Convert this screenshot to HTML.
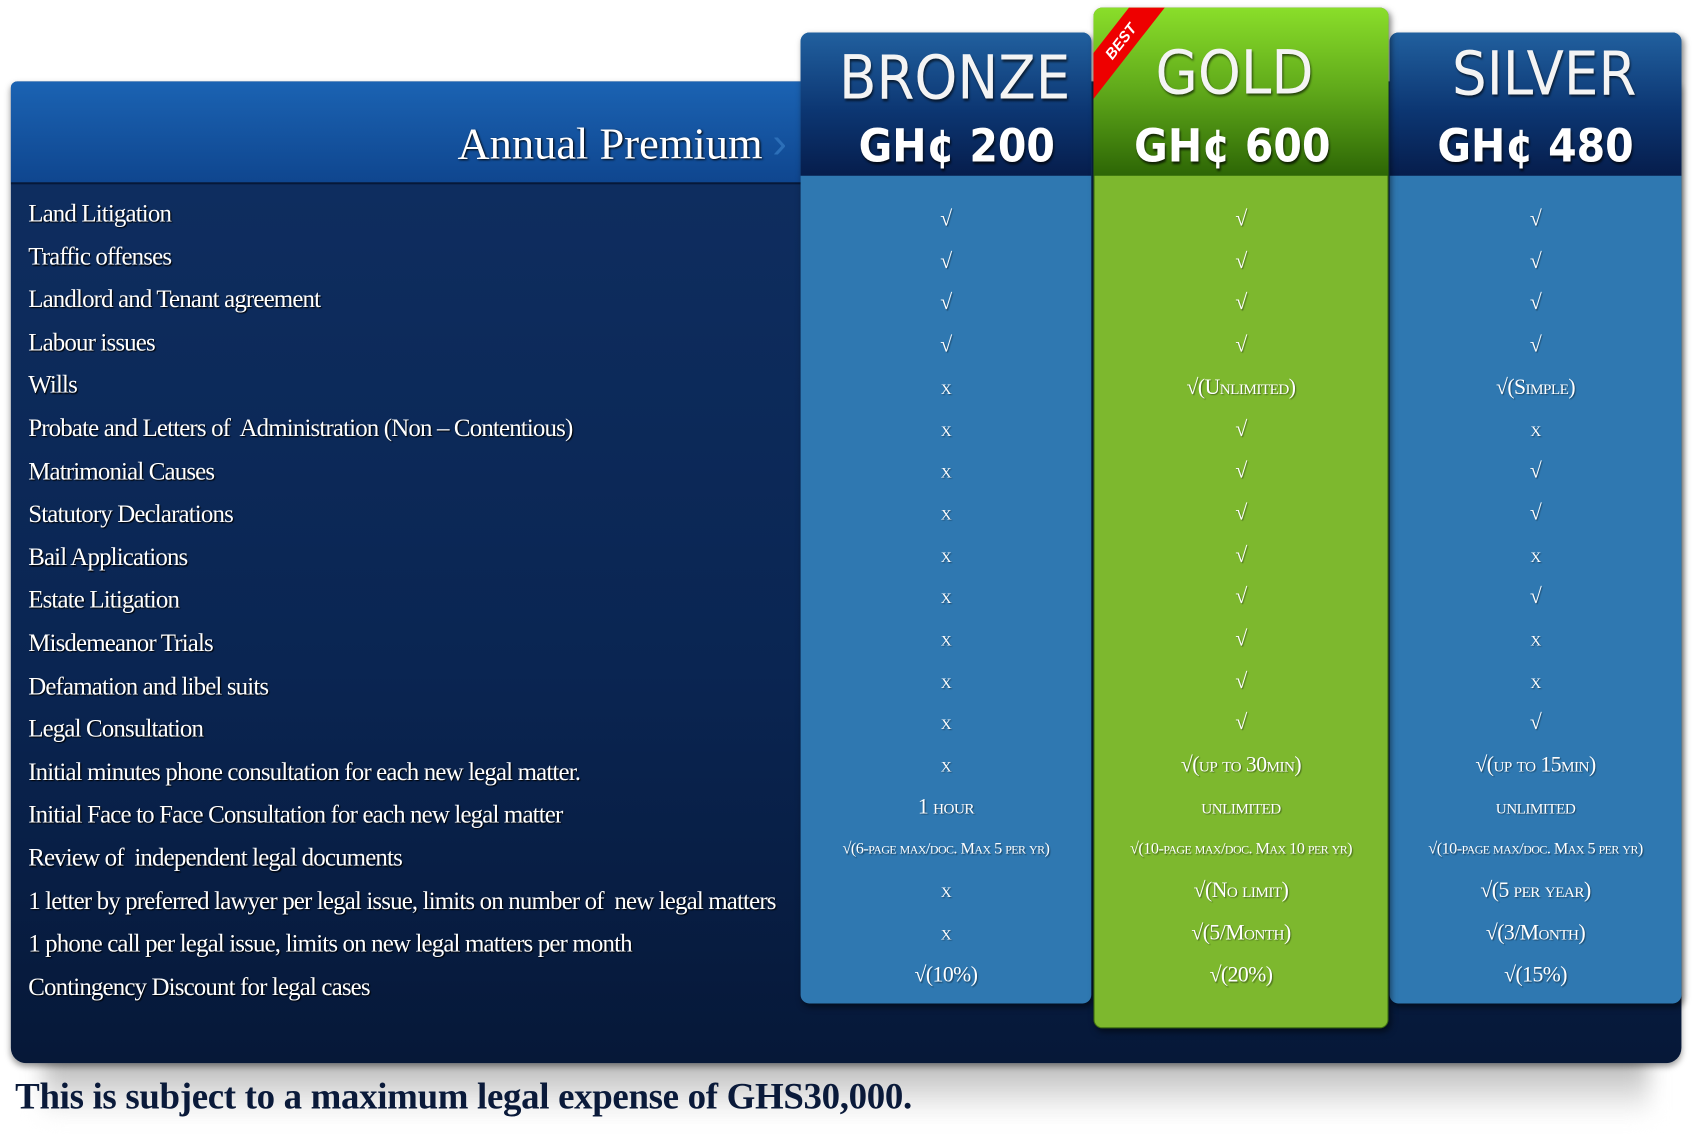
<!DOCTYPE html>
<html><head><meta charset="utf-8">
<style>
html,body{margin:0;padding:0;background:#fff;width:1701px;height:1134px;overflow:hidden}
#s{position:absolute;left:0;top:0;width:1568px;height:1045px;transform:scale(1.0848);transform-origin:0 0;font-family:"Liberation Serif",serif}
.abs{position:absolute}
.shadow{left:40px;top:960px;width:1480px;height:70px;background:linear-gradient(#777,#fff);filter:blur(10px);opacity:.7}
.panel{left:10px;top:75px;width:1540px;height:905px;border-radius:6px 6px 14px 14px;background:linear-gradient(#0f2f62,#0a2552 60%,#061838);box-shadow:0 3px 6px rgba(0,0,0,.4)}
.hband{left:10px;top:75px;width:730px;height:93px;border-radius:6px 0 0 0;background:linear-gradient(#1b63b3,#0f468f);border-bottom:2px solid #061838}
.ap{right:865px;top:108px;color:#fff;font-size:41px;text-shadow:1px 1px 2px #000}
.chev{left:712px;top:110px;color:#2c6fb8;font-size:40px;font-family:"Liberation Sans",sans-serif}
.col{border-radius:8px;box-shadow:2px 3px 6px rgba(0,0,0,.5)}
.hd{border-radius:8px 8px 0 0}
.title{width:100%;text-align:center;color:#f4f4f4;font-family:"DejaVu Sans Condensed","Liberation Sans Narrow","Liberation Sans",sans-serif;font-size:56px;text-shadow:1px 2px 2px rgba(0,0,0,.6)}
.price{width:100%;text-align:center;color:#fff;font-family:"DejaVu Sans Condensed","DejaVu Sans","Liberation Sans",sans-serif;font-weight:bold;font-size:42px;text-shadow:1px 2px 2px rgba(0,0,0,.7)}
.lbl{left:26px;color:#fff;font-size:23px;letter-spacing:-0.8px;white-space:nowrap;text-shadow:1px 1px 1px #000}
.v{color:#fff;text-align:center;font-size:20px;font-variant:small-caps;white-space:nowrap;letter-spacing:-.5px;text-shadow:1px 1px 1px rgba(0,0,0,.4)}
.v.sm{font-size:15px}
.foot{left:14px;top:993px;color:#0a1a3a;font-size:34px;font-weight:bold;letter-spacing:-.3px}
</style></head><body>
<div id="s">
<div class="abs shadow"></div>
<div class="abs panel"></div>
<div class="abs hband"></div>
<div class="abs ap">Annual Premium</div>
<div class="abs chev">›</div>

<div class="abs col" style="left:738px;top:30px;width:268px;height:895px;background:#2f78b1"></div>
<div class="abs hd" style="left:738px;top:30px;width:268px;height:132px;background:linear-gradient(#21609f,#0c3672 55%,#061d4c)">
<div class="abs title" style="top:10px;left:8px">BRONZE</div>
<div class="abs price" style="top:80px;left:10px">GH¢ 200</div></div>

<div class="abs col" style="left:1281px;top:30px;width:269px;height:895px;background:#2f78b1"></div>
<div class="abs hd" style="left:1281px;top:30px;width:269px;height:132px;background:linear-gradient(#21609f,#0c3672 55%,#061d4c)">
<div class="abs title" style="top:6px;left:8px">SILVER</div>
<div class="abs price" style="top:80px">GH¢ 480</div></div>

<div class="abs col" style="left:1008px;top:7px;width:272px;height:941px;background:#7db82e;border:1px solid #3d6e10;box-sizing:border-box"></div>
<div class="abs hd" style="left:1008px;top:7px;width:272px;height:155px;background:linear-gradient(#8ade2a,#5fa81a 50%,#2d6605);overflow:hidden">
<div class="abs title" style="top:28px;left:-6px">GOLD</div>
<div class="abs price" style="top:103px;left:-8px">GH¢ 600</div>
<div class="abs" style="left:-40px;top:18px;width:130px;height:26px;background:#e00;transform:rotate(-52deg);color:#fff;font:bold italic 14px 'Liberation Sans',sans-serif;text-align:center;line-height:26px">BEST</div></div>

<div id="rows"></div>
<div class="abs foot">This is subject to a maximum legal expense of GHS30,000.</div>
</div>
<script>
const labels=["Land Litigation","Traffic offenses","Landlord and Tenant agreement","Labour issues","Wills","Probate and Letters of  Administration (Non – Contentious)","Matrimonial Causes","Statutory Declarations","Bail Applications","Estate Litigation","Misdemeanor Trials","Defamation and libel suits","Legal Consultation","Initial minutes phone consultation for each new legal matter.","Initial Face to Face Consultation for each new legal matter","Review of  independent legal documents","1 letter by preferred lawyer per legal issue, limits on number of  new legal matters","1 phone call per legal issue, limits on new legal matters per month","Contingency Discount for legal cases"];
const bronze=["√","√","√","√","x","x","x","x","x","x","x","x","x","x","1 hour","√(6-page max/doc. Max 5 per yr)","x","x","√(10%)"];
const gold=["√","√","√","√","√(Unlimited)","√","√","√","√","√","√","√","√","√(up to 30min)","unlimited","√(10-page max/doc. Max 10 per yr)","√(No limit)","√(5/Month)","√(20%)"];
const silver=["√","√","√","√","√(Simple)","x","√","√","x","√","x","x","√","√(up to 15min)","unlimited","√(10-page max/doc. Max 5 per yr)","√(5 per year)","√(3/Month)","√(15%)"];
const s=document.getElementById('s');
labels.forEach((t,i)=>{
 const d=document.createElement('div');d.className='abs lbl';d.style.top=(184+i*39.6)+'px';d.style.whiteSpace='pre';d.textContent=t;
 
 
 s.appendChild(d);
});
[[bronze,738,268,'bronze'],[gold,1008,272,'gold'],[silver,1281,269,'silver']].forEach(([arr,x,w,n])=>{
 arr.forEach((t,i)=>{
  const d=document.createElement('div');d.className='abs v'+(t.length>20?' sm':'');
  d.style.left=x+'px';d.style.width=w+'px';d.style.top=(191+i*38.7+(t.length>20?3:0))+'px';d.textContent=t;
  
  
  s.appendChild(d);
 });
});
</script>
</body></html>
